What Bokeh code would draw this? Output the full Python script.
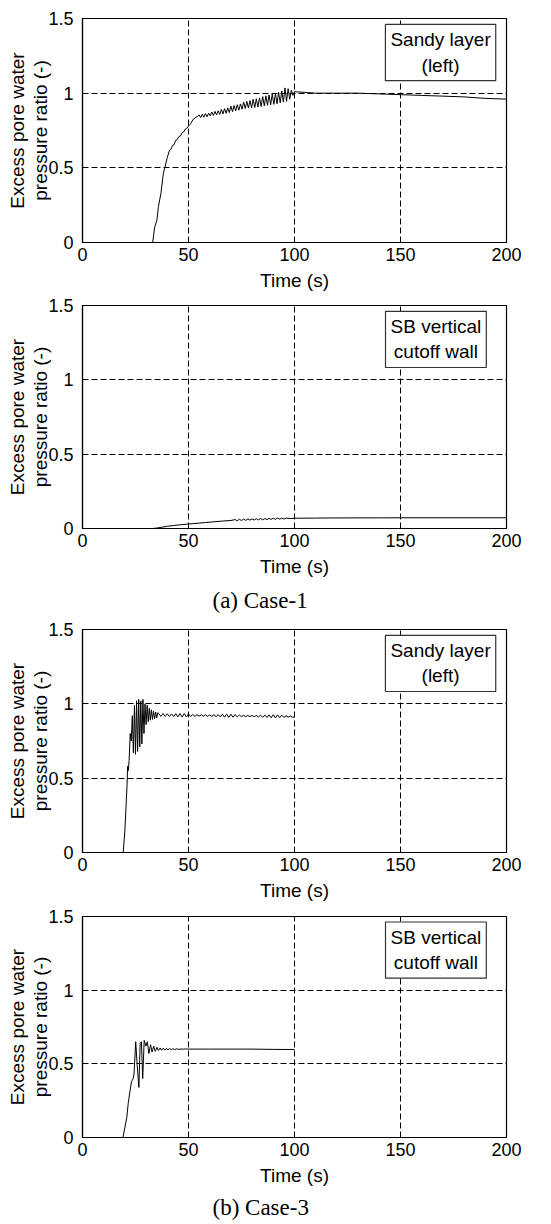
from bokeh.plotting import figure
from bokeh.layouts import column
from bokeh.models import Range1d, FixedTicker, NumeralTickFormatter, Label, Title
from bokeh.embed import file_html
from bokeh.resources import INLINE

# ---------------- data ----------------
x_ticks = [0, 50, 100, 150, 200]
y_ticks = [0, 0.5, 1.0, 1.5]

# Case-1, sandy layer (left)
c1_sand_t = [33.1, 34.0, 35.1, 35.8, 37.0, 38.1, 38.8, 40.0, 41.0, 41.7, 42.5, 43.2, 44.0,
             44.7, 45.5, 46.3, 47.0, 47.7, 48.5, 49.2, 50, 51, 52.2, 53.2, 54.3,
             55, 55.75, 56.5, 57.25, 58, 58.75, 59.5, 60.25, 61, 61.75,
             62.5, 63.25, 64, 64.75, 65.5, 66.25, 67, 67.75, 68.5, 69.25, 70, 70.75,
             71.5, 72.25, 73, 73.75, 74.5, 75.25, 76, 76.75, 77.5, 78.25, 79, 79.75,
             80.5, 81.25, 82, 82.75, 83.5, 84.25, 85, 85.75, 86.5, 87.25, 88, 88.75,
             89.5, 90.25, 91, 91.75, 92.5, 93.25, 94, 94.75, 95.5, 96.25, 97, 97.75,
             98.5, 99.25, 100, 105, 110, 120, 130, 140, 150, 160, 170, 180, 190, 200]
c1_sand_v = [0.0, 0.10, 0.15, 0.24, 0.33, 0.46, 0.50, 0.57, 0.615, 0.625, 0.65, 0.655, 0.685,
             0.69, 0.71, 0.715, 0.735, 0.74, 0.76, 0.765, 0.78, 0.795, 0.825, 0.835, 0.845,
             0.855, 0.836, 0.859, 0.839, 0.863, 0.842, 0.866, 0.848, 0.874, 0.851,
             0.878, 0.854, 0.882, 0.858, 0.891, 0.861, 0.896, 0.865, 0.902, 0.870, 0.913,
             0.876, 0.917, 0.881, 0.922, 0.886, 0.928, 0.893, 0.940, 0.897, 0.945, 0.901,
             0.950, 0.902, 0.959, 0.904, 0.963, 0.907, 0.968, 0.911, 0.977, 0.915, 0.982,
             0.919, 0.988, 0.922, 0.993, 0.925, 0.999, 0.929, 1.006, 0.935, 1.015, 0.94,
             1.035, 0.945, 1.03, 0.96, 1.02, 0.985, 1.01, 1.005, 1.0, 1.0,
             1.0, 0.995, 0.99, 0.985, 0.98, 0.975, 0.965, 0.96]

# Case-1, SB vertical cutoff wall
c1_wall_t = [33, 35, 38, 40, 43, 46, 50, 54, 58, 62, 66, 70, 72, 73, 74, 75, 76, 77, 78,
             79, 80, 81, 82, 83, 84, 85, 86, 87, 88, 89, 90, 91, 92, 93, 94, 95, 96, 98,
             100, 110, 120, 150, 200]
c1_wall_v = [0.0, 0.003, 0.01, 0.015, 0.02, 0.025, 0.03, 0.035, 0.04, 0.045, 0.05, 0.054,
             0.06, 0.052, 0.062, 0.054, 0.063, 0.055, 0.064, 0.056, 0.065, 0.057, 0.066,
             0.058, 0.067, 0.059, 0.067, 0.06, 0.068, 0.061, 0.069, 0.062, 0.07, 0.063,
             0.07, 0.064, 0.07, 0.067, 0.069, 0.07, 0.071, 0.072, 0.072]

# Case-3, sandy layer (left)
c3_sand_t = [19.2, 20, 20.5, 21, 21.3, 21.6, 22, 22.5, 23, 23.5, 24, 24.5, 25, 25.5, 26,
             26.5, 27, 27.5, 28, 28.5, 29, 29.5, 30, 30.5, 31, 31.5, 32, 32.5, 33, 33.5,
             34, 34.5, 35, 35.5, 36, 37, 38, 39, 40, 41, 42, 43, 44, 45, 46, 47, 48, 49,
             50, 51, 52, 53, 54, 55, 56, 57, 58, 59, 60, 61, 62, 63, 64, 65, 66, 67, 68,
             69, 70, 71, 72, 73, 74, 75, 76, 77, 78, 79, 80, 81, 82, 83, 84, 85, 86, 87,
             88, 89, 90, 91, 92, 93, 94, 95, 96, 97, 98, 99, 100]
c3_sand_v = [0.0, 0.15, 0.30, 0.45, 0.58, 0.55, 0.62, 0.80, 0.75, 0.92, 0.67, 0.99, 0.66,
             1.02, 0.68, 1.03, 0.71, 1.02, 0.73, 1.03, 0.80, 1.00, 0.86, 0.99, 0.88, 0.97,
             0.89, 0.96, 0.895, 0.95, 0.90, 0.945, 0.905, 0.94, 0.935, 0.915, 0.935, 0.915,
             0.933, 0.915, 0.932, 0.914, 0.934, 0.912, 0.935, 0.911, 0.935, 0.912, 0.932,
             0.915, 0.928, 0.916, 0.927, 0.917, 0.926, 0.917, 0.926, 0.916, 0.926, 0.915,
             0.927, 0.914, 0.928, 0.912, 0.930, 0.910, 0.931, 0.909, 0.930, 0.910, 0.928,
             0.912, 0.925, 0.913, 0.923, 0.914, 0.922, 0.914, 0.922, 0.913, 0.922, 0.912,
             0.923, 0.910, 0.925, 0.908, 0.926, 0.906, 0.927, 0.905, 0.926, 0.906, 0.924,
             0.908, 0.920, 0.910, 0.918, 0.910, 0.912]

# Case-3, SB vertical cutoff wall
c3_wall_t = [19.1, 20.9, 21.6, 22.4, 23.1, 23.9, 24.3, 25.1, 25.8, 26.6, 27.2, 27.8, 28.4,
             29.1, 29.9, 30.6, 31.3, 32.1, 32.8, 33.6, 34.3, 35.1, 35.8, 36.6, 37.3, 38.1,
             38.8, 39.6, 40.3, 41.1, 41.8, 42.6, 43.5, 44.5, 45.5, 46.5, 47.5, 48.5, 50,
             60, 70, 80, 90, 100]
c3_wall_v = [0.0, 0.136, 0.237, 0.315, 0.38, 0.40, 0.43, 0.65, 0.49, 0.34, 0.64, 0.65,
             0.40, 0.66, 0.62, 0.65, 0.57, 0.63, 0.58, 0.62, 0.585, 0.612, 0.59, 0.608,
             0.592, 0.606, 0.594, 0.605, 0.595, 0.604, 0.596, 0.603, 0.597, 0.602, 0.598,
             0.601, 0.599, 0.601, 0.60, 0.60, 0.60, 0.60, 0.598, 0.597]

box_sand = "Sandy layer\n(left)"
box_wall = "SB vertical\ncutoff wall"
x_label = "Time (s)"
y_label = "Excess pore water\npressure ratio (-)"

SANS = "Liberation Sans"
SERIF = "Liberation Serif"


def make_panel(t, v, box_text, box_x, top, frame_h, bottom, caption=None, cap_standoff=10):
    p = figure(width=551, height=top + frame_h + bottom,
               x_range=Range1d(0, 200), y_range=Range1d(0, 1.5),
               output_backend="svg", toolbar_location=None,
               min_border_left=82, min_border_right=45,
               min_border_top=top, min_border_bottom=bottom)
    p.background_fill_color = "white"
    p.border_fill_color = "white"
    p.outline_line_color = "black"
    p.outline_line_width = 1.2

    p.line(t, v, line_color="black", line_width=1)

    for ax in (p.xaxis[0], p.yaxis[0]):
        ax.axis_line_color = "black"
        ax.axis_line_width = 1.2
        ax.major_tick_in = 5
        ax.major_tick_out = 0
        ax.minor_tick_in = 0
        ax.minor_tick_out = 0
        ax.major_tick_line_color = "black"
        ax.major_label_text_font = SANS
        ax.major_label_text_font_size = "18px"
        ax.major_label_text_color = "black"
        ax.axis_label_text_font = SANS
        ax.axis_label_text_font_size = "19px"
        ax.axis_label_text_font_style = "normal"
        ax.axis_label_text_color = "black"
    p.xaxis[0].ticker = FixedTicker(ticks=x_ticks)
    p.yaxis[0].ticker = FixedTicker(ticks=y_ticks)
    p.xaxis[0].formatter = NumeralTickFormatter(format="0.[0]")
    p.yaxis[0].formatter = NumeralTickFormatter(format="0.[0]")
    p.xaxis[0].major_label_standoff = 5
    p.yaxis[0].major_label_standoff = 9
    p.xaxis[0].axis_label = x_label
    p.xaxis[0].axis_label_standoff = 6
    p.yaxis[0].axis_label = y_label
    p.yaxis[0].axis_label_standoff = -6
    p.yaxis[0].axis_label_text_line_height = 1.1

    for g in (p.xgrid[0], p.ygrid[0]):
        g.grid_line_color = "black"
        g.grid_line_width = 1
        g.grid_line_dash = "6 3"
    p.xgrid[0].ticker = FixedTicker(ticks=x_ticks)
    p.ygrid[0].ticker = FixedTicker(ticks=y_ticks)

    lab = Label(x=box_x, y=1.272, x_units="data", y_units="data", text=box_text,
                text_align="center", text_baseline="middle",
                text_font=SANS, text_font_size="19px", text_color="black",
                border_line_color="#333333", border_line_width=1.2,
                background_fill_color="white", padding=5)
    p.add_layout(lab)

    if caption is not None:
        p.add_layout(Title(text=caption, align="left", offset=130, standoff=cap_standoff,
                           text_font=SERIF, text_font_size="23px",
                           text_font_style="normal", text_color="black"), "below")
    return p


p1 = make_panel(c1_sand_t, c1_sand_v, box_sand, 168.9, 18, 224, 53)
p2 = make_panel(c1_wall_t, c1_wall_v, box_wall, 166.7, 10, 223, 91, "(a) Case-1", 13)
p3 = make_panel(c3_sand_t, c3_sand_v, box_sand, 168.9, 10, 223, 53)
p4 = make_panel(c3_wall_t, c3_wall_v, box_wall, 166.7, 11, 224, 84, "(b) Case-3", 9)

layout = column(p1, p2, p3, p4, spacing=0)
open("out.html", "w").write(file_html(layout, INLINE))
